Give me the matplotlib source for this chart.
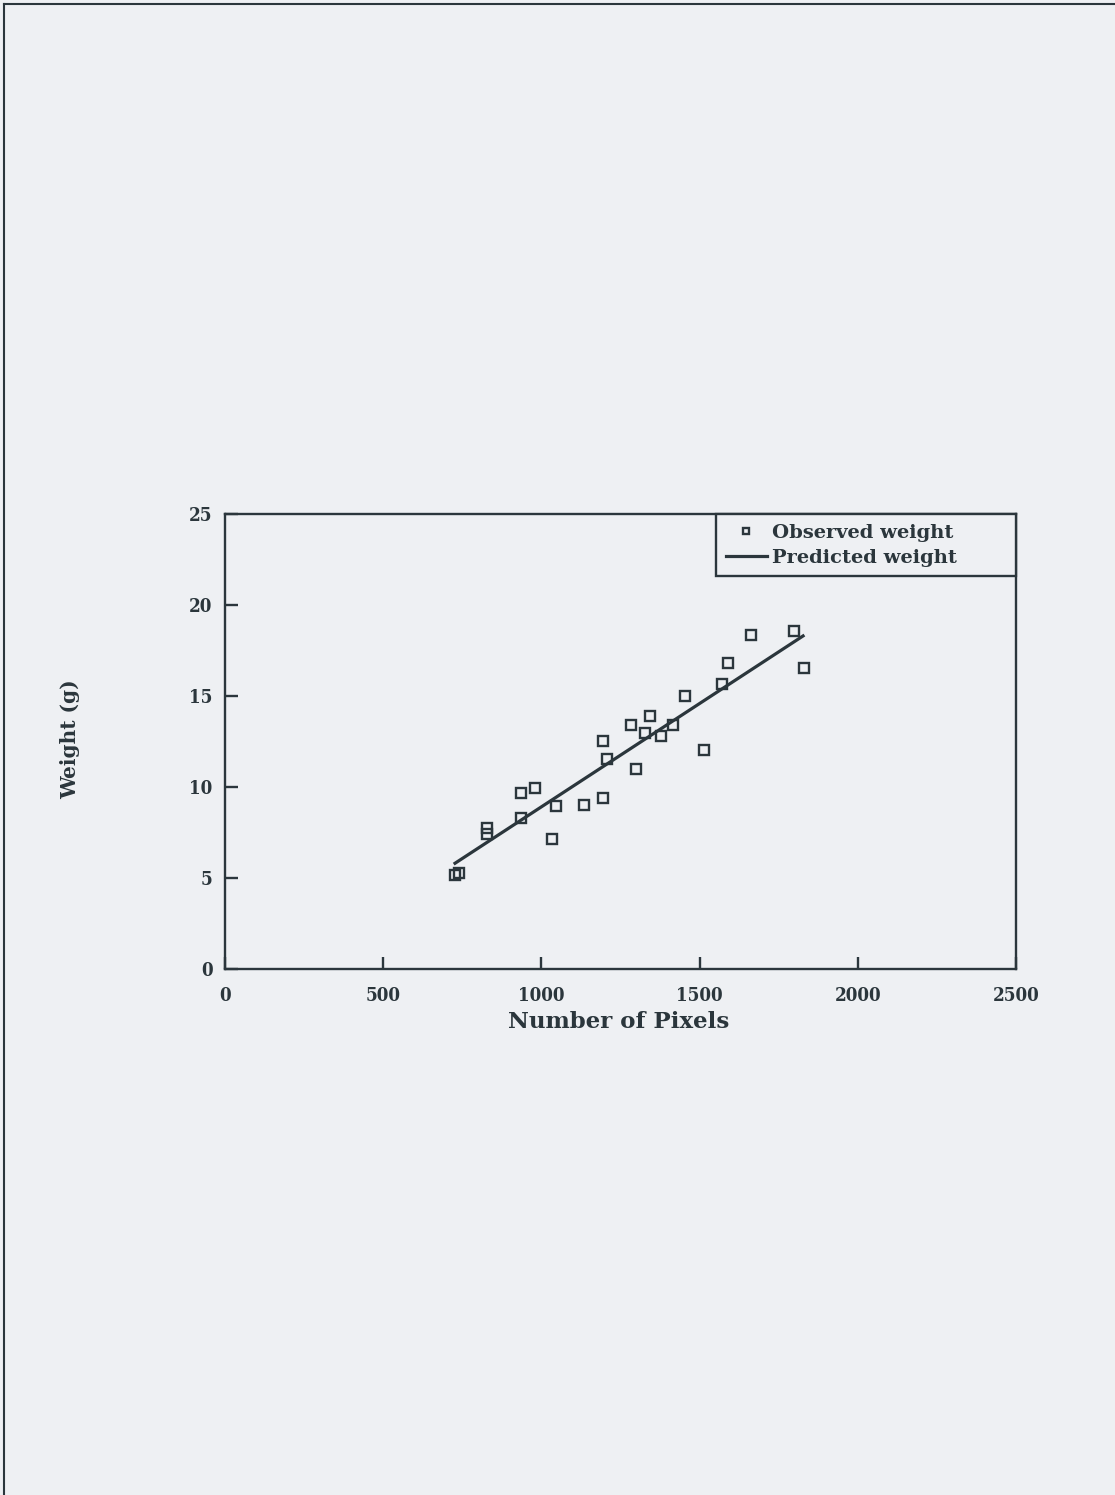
import matplotlib
matplotlib.use("Agg")
import matplotlib.pyplot as plt
from matplotlib.lines import Line2D

# Observed data (number of pixels vs weight in g)
pixels = [727, 740, 827, 827, 935, 981, 935, 1047, 1034, 1135, 1196, 1195,
          1207, 1284, 1300, 1328, 1343, 1378, 1415, 1454, 1513, 1572, 1591,
          1662, 1799, 1829]
weight = [5.16, 5.29, 7.73, 7.40, 9.65, 9.95, 8.31, 8.96, 7.16, 9.01, 9.41,
          12.54, 11.52, 13.42, 10.99, 12.98, 13.90, 12.82, 13.42, 15.00, 12.02,
          15.66, 16.80, 18.35, 18.55, 16.52]

# Predicted (regression) line end points
pred_x = [727, 1827]
pred_y = [5.81, 18.30]

xticks = [0, 500, 1000, 1500, 2000, 2500]
yticks = [0, 5, 10, 15, 20, 25]

ink = '#2b363c'
bg = '#eef0f3'
font = 'DejaVu Serif'

fig = plt.figure(figsize=(11.15, 14.95), dpi=100, facecolor=bg)
ax = fig.add_axes([225/1115, 1 - 969/1495, (1016-225)/1115, (969-514)/1495])
ax.set_facecolor(bg)

ax.plot(pixels, weight, ls='none', marker='s', ms=6.5, mfc='none', mec=ink,
        mew=1.7, label='Observed weight')
ax.plot(pred_x, pred_y, color=ink, lw=2.3, label='Predicted weight')

ax.set_xlim(0, 2500)
ax.set_ylim(0, 25)
ax.set_xticks(xticks)
ax.set_yticks(yticks)
ax.set_xticklabels([str(t) for t in xticks])
ax.set_yticklabels([str(t) for t in yticks])

for s in ax.spines.values():
    s.set_color(ink)
    s.set_linewidth(1.7)

ax.tick_params(axis='both', direction='in', length=9, width=1.7, color=ink,
               labelcolor=ink, labelsize=13.5)
ax.tick_params(axis='x', pad=13)
ax.tick_params(axis='y', pad=9)
for lab in ax.get_xticklabels() + ax.get_yticklabels():
    lab.set_fontfamily(font)
    lab.set_fontweight('heavy')
    lab.set_fontstretch('condensed')

ax.set_xlabel('Number of Pixels', fontsize=16.5, fontweight='bold',
              family=font, color=ink, va='center')
ax.xaxis.set_label_coords(0.498, -0.117)
ax.set_ylabel('Weight (g)', fontsize=14.5, fontweight='bold', family=font,
              color=ink, va='center')
ax.yaxis.set_label_coords(-0.196, 0.505)

leg_x0 = (716 - 225) / 791
leg_h = (575 - 514) / 455
leg = ax.legend(loc='upper right', bbox_to_anchor=(leg_x0, 1 - leg_h, 1 - leg_x0, leg_h),
                mode='expand', borderaxespad=0, fancybox=False,
                framealpha=1, facecolor=bg, edgecolor=ink, numpoints=1,
                prop={'family': font, 'weight': 'bold', 'size': 14},
                handlelength=2.1, handletextpad=0.3, labelspacing=0.36,
                borderpad=0.5)
leg.get_frame().set_linewidth(1.7)
for t in leg.get_texts():
    t.set_color(ink)
for h in leg.legend_handles:
    if h.get_marker() == 's':
        h.set_markersize(5)

# page border (top and left)
fig.add_artist(Line2D([4/1115, 1], [1 - 4/1495, 1 - 4/1495],
                      transform=fig.transFigure, color=ink, lw=1.5))
fig.add_artist(Line2D([4/1115, 4/1115], [0, 1 - 4/1495],
                      transform=fig.transFigure, color=ink, lw=1.5))

fig.savefig('out.png', dpi=100, facecolor=bg)
